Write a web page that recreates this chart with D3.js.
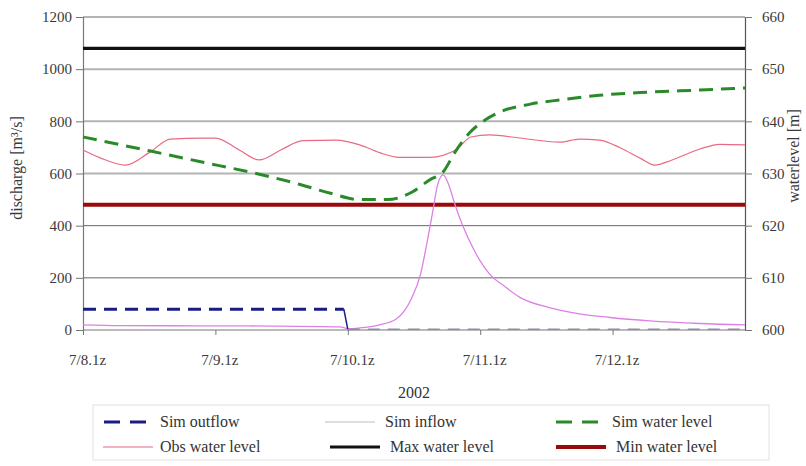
<!DOCTYPE html>
<html>
<head>
<meta charset="utf-8">
<script src="https://cdn.jsdelivr.net/npm/d3@7"></script>
<style>
  html, body { margin: 0; padding: 0; background: #fff; }
  svg { display: block; font-family: "Liberation Serif", "Times New Roman", serif; }
</style>
</head>
<body>
<svg id="chart" width="806" height="466"></svg>
<script>
// ---- data ----
const xTickDays = [0, 1, 2, 3, 4];
const xTickLabels = ["7/8.1z", "7/9.1z", "7/10.1z", "7/11.1z", "7/12.1z"];
const leftTicks = [0, 200, 400, 600, 800, 1000, 1200];
const rightTicks = [600, 610, 620, 630, 640, 650, 660];

const outflowDays = [0, 1.97, 2.0, 2.06, 5];
const outflowVals = [80, 80, 2, 3, 3];

const inflowDays = [0, 0.28, 0.88, 1.49, 1.94, 2.01, 2.09, 2.24, 2.36, 2.43, 2.48, 2.55, 2.60, 2.64, 2.68, 2.72, 2.76, 2.81, 2.86, 2.96, 3.07, 3.19, 3.30, 3.53, 3.75, 3.98, 4.28, 4.66, 5.0];
const inflowVals = [20, 17, 16, 15, 12, 5, 8, 20, 40, 75, 120, 215, 340, 450, 560, 595, 560, 480, 410, 300, 215, 165, 125, 85, 62, 48, 35, 25, 20];

const simLevelDays = [0, 0.51, 0.88, 1.34, 1.64, 1.87, 2.09, 2.30, 2.49, 2.62, 2.72, 2.81, 2.92, 3.04, 3.15, 3.38, 3.60, 3.90, 4.28, 4.66, 5.0];
const simLevelVals = [637.0, 634.3, 632.3, 629.8, 627.9, 626.2, 625.0, 625.0, 626.5, 628.8, 630.3, 634.1, 637.8, 640.3, 641.8, 643.3, 644.1, 645.0, 645.6, 646.0, 646.4];

const obsLevelDays = [0, 0.13, 0.32, 0.50, 0.66, 0.90, 1.00, 1.18, 1.33, 1.50, 1.66, 1.91, 2.09, 2.24, 2.39, 2.62, 2.82, 2.93, 3.07, 3.30, 3.60, 3.75, 3.90, 4.06, 4.21, 4.32, 4.44, 4.66, 4.81, 5.0];
const obsLevelVals = [634.5, 633.0, 631.6, 634.0, 636.6, 636.8, 636.8, 634.5, 632.6, 634.6, 636.3, 636.4, 635.5, 634.0, 633.1, 633.1, 634.6, 637.0, 637.4, 636.8, 636.0, 636.6, 636.4, 634.9, 632.9, 631.6, 632.5, 634.7, 635.6, 635.5];

const maxLevel = 654;
const minLevel = 624;

const legendItems = [
  { name: "Sim outflow", key: "outflow" },
  { name: "Sim inflow", key: "inflow" },
  { name: "Sim water level", key: "simlevel" },
  { name: "Obs water level", key: "obslevel" },
  { name: "Max water level", key: "max" },
  { name: "Min water level", key: "min" }
];

// ---- styles ----
const styles = {
  outflow: { color: "#1c1c86", width: 3, dash: "13,8" },
  inflow: { color: "#dd80e6", width: 1.3, dash: null, legendColor: "#d6d0da" },
  simlevel: { color: "#2a8a2a", width: 3, dash: "14,8" },
  obslevel: { color: "#e86a84", width: 1.2, dash: null },
  max: { color: "#111111", width: 3.2, dash: null },
  min: { color: "#9a0a0a", width: 4, dash: null }
};

const svg = d3.select("#chart");
const L = 83, R = 745, T = 17, B = 330;

const x = d3.scaleLinear().domain([0, 5]).range([L, R]);
const yL = d3.scaleLinear().domain([0, 1200]).range([B, T]);
const yR = d3.scaleLinear().domain([600, 660]).range([B, T]);

// gridlines
svg.append("g").selectAll("line").data(leftTicks.filter(d => d > 0)).join("line")
  .attr("x1", L).attr("x2", R)
  .attr("y1", d => yL(d)).attr("y2", d => yL(d))
  .attr("stroke", d => (d === 200 || d === 400) ? "#666" : "#b4b4b4")
  .attr("stroke-width", d => (d === 200 || d === 400) ? 1 : 2);

// axes
const axL = svg.append("g").attr("transform", `translate(${L},0)`)
  .call(d3.axisLeft(yL).tickValues(leftTicks).tickFormat(d3.format("d")).tickSize(7).tickPadding(4));
const axR = svg.append("g").attr("transform", `translate(${R},0)`)
  .call(d3.axisRight(yR).tickValues(rightTicks).tickFormat(d3.format("d")).tickSize(7).tickPadding(10));
const axB = svg.append("g").attr("transform", `translate(0,${B})`)
  .call(d3.axisBottom(x).tickValues(xTickDays).tickFormat((d, i) => xTickLabels[i]).tickSize(5).tickPadding(19));

[axL, axR, axB].forEach(a => {
  a.select(".domain").attr("stroke", "#777").attr("stroke-width", 1.2);
  a.selectAll(".tick line").attr("stroke", "#777");
  a.selectAll(".tick text").attr("fill", "#3a3a3a").style("font-size", "15px")
    .style("font-family", "'Liberation Serif', serif");
});
axR.select(".domain").attr("stroke", "#555");
axB.selectAll(".tick text").attr("dx", 4);
axB.select(".domain").attr("d", `M${L},0H${R}`);

// axis titles
svg.append("text").attr("transform", `translate(22,168) rotate(-90)`)
  .attr("text-anchor", "middle").attr("fill", "#3a3a3a").style("font-size", "16px")
  .text("discharge [m³/s]");
svg.append("text").attr("transform", `translate(799,156) rotate(-90)`)
  .attr("text-anchor", "middle").attr("fill", "#3a3a3a").style("font-size", "16px")
  .text("waterlevel [m]");
svg.append("text").attr("x", 414).attr("y", 398)
  .attr("text-anchor", "middle").attr("fill", "#333").style("font-size", "16px")
  .text("2002");

// series
function drawLine(days, vals, scale, st) {
  const data = days.map((d, i) => [d, vals[i]]);
  const line = d3.line().x(d => x(d[0])).y(d => scale(d[1])).curve(d3.curveMonotoneX);
  const p = svg.append("path").datum(data).attr("d", line)
    .attr("fill", "none").attr("stroke", st.color).attr("stroke-width", st.width)
    .attr("stroke-linejoin", "round");
  if (st.dash) p.attr("stroke-dasharray", st.dash);
  return p;
}

drawLine(obsLevelDays, obsLevelVals, yR, styles.obslevel);
drawLine([0, 5], [maxLevel, maxLevel], yR, styles.max);
drawLine([0, 5], [minLevel, minLevel], yR, styles.min);
drawLine(inflowDays, inflowVals, yL, styles.inflow);
// outflow: straight segments; the part lying on the baseline renders lighter
(function () {
  const data = outflowDays.map((d, i) => [d, outflowVals[i]]);
  const line = d3.line().x(d => x(d[0])).y(d => yL(d[1]));
  svg.append("path").datum(data.slice(0, 2)).attr("d", line).attr("fill", "none")
    .attr("stroke", styles.outflow.color).attr("stroke-width", styles.outflow.width)
    .attr("stroke-dasharray", styles.outflow.dash);
  svg.append("path").datum(data.slice(1, 3)).attr("d", line).attr("fill", "none")
    .attr("stroke", styles.outflow.color).attr("stroke-width", 1.5);
  svg.append("path").datum(data.slice(2)).attr("d", line).attr("fill", "none")
    .attr("stroke", "#8c8ca8").attr("stroke-width", 1.6)
    .attr("stroke-dasharray", "12,8");
})();
drawLine(simLevelDays, simLevelVals, yR, styles.simlevel);

// legend
svg.append("rect").attr("x", 93).attr("y", 405).attr("width", 676).attr("height", 55)
  .attr("fill", "none").attr("stroke", "#e2e2e2").attr("stroke-width", 1);

const legendPos = [
  { mx: 104, tx: 160, y: 422 },
  { mx: 325, tx: 385, y: 422 },
  { mx: 556, tx: 612, y: 422 },
  { mx: 103, tx: 160, y: 447 },
  { mx: 330, tx: 390, y: 447 },
  { mx: 556, tx: 616, y: 447 }
];
const lg = svg.append("g");
legendItems.forEach((it, i) => {
  const st = styles[it.key];
  const p = legendPos[i];
  const len = (it.key === "outflow" || it.key === "simlevel") ? 46 : 50;
  const l = lg.append("line").attr("x1", p.mx).attr("x2", p.mx + len)
    .attr("y1", p.y).attr("y2", p.y)
    .attr("stroke", st.legendColor || st.color).attr("stroke-width", st.width);
  if (st.dash) l.attr("stroke-dasharray", "16,10");
  lg.append("text").attr("x", p.tx).attr("y", p.y + 5).attr("fill", "#333")
    .style("font-size", "16px").text(it.name);
});
</script>
</body>
</html>
